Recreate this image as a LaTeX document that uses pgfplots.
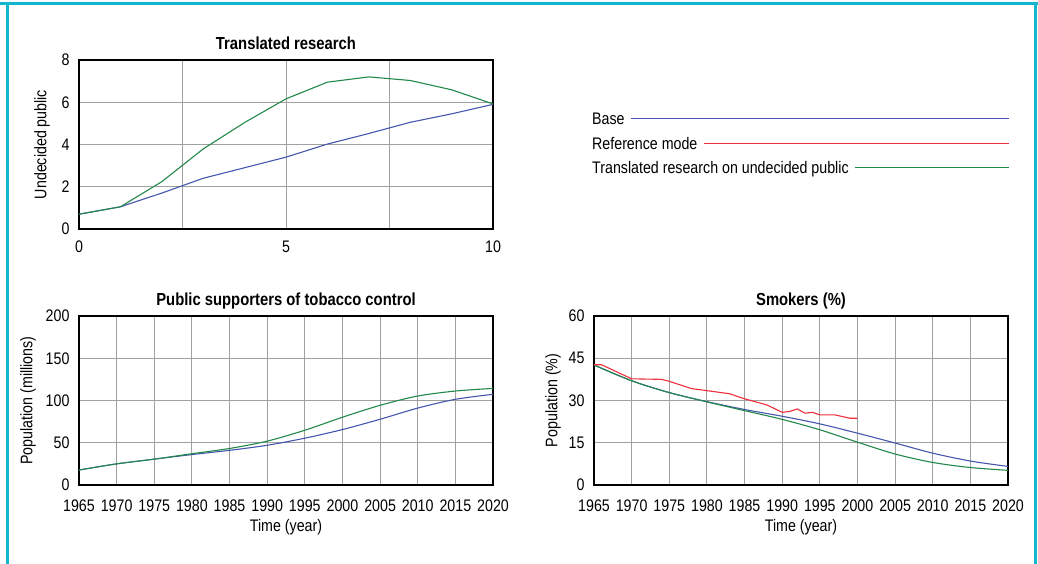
\documentclass[border=0pt]{standalone}
\usepackage{fontspec}
\setmainfont{Liberation Sans}[FakeStretch=0.85]
\usepackage{pgfplots}
\pgfplotsset{compat=1.18}
\definecolor{cblue}{HTML}{4656AC}
\definecolor{cred}{HTML}{EE2E3A}
\definecolor{cgreen}{HTML}{22884A}
\definecolor{cgrid}{HTML}{A0A0A0}
\definecolor{cframe}{HTML}{12B6CE}
\pgfplotsset{
  every axis/.append style={
    scale only axis, width=414bp, height=169bp,
    axis line style={black, line width=1.6bp},
    grid=both,
    major grid style={cgrid, line width=0.9bp},
    minor grid style={cgrid, line width=0.9bp},
    major tick length=0pt, minor tick length=0pt,
    tick align=outside,
    font=\fontsize{16.8}{19}\selectfont,
    /pgf/number format/assume math mode=true,
    /pgf/number format/.cd, 1000 sep={}, /pgfplots/.cd,
    yticklabel style={xshift=-6bp},
    xticklabel style={yshift=-11bp},
    title style={font=\fontsize{17.5}{20}\selectfont\bfseries, at={(axis description cs:0.5,1.028)}, anchor=base, inner sep=0pt, yshift=0pt},
    xlabel style={at={(axis description cs:0.5,-0.249)}, anchor=center},
  },
}
\begin{document}
\begin{tikzpicture}[x=1bp,y=1bp]
\useasboundingbox (0,0) rectangle (1038,564);
\draw[draw=cframe, line width=3bp] (0,560) -- (1038,560);
\draw[draw=cframe, line width=3bp] (7,0) -- (7,560);
\draw[draw=cframe, line width=3bp] (1035.5,0) -- (1035.5,560);

% Top chart
\begin{axis}[at={(79bp,335bp)}, anchor=south west,
  xmin=0, xmax=10, ymin=0, ymax=8,
  xtick={0,5,10}, minor xtick={2.5,7.5}, ytick={0,2,4,6,8},
  xticklabel style={yshift=2.5bp},
  title={Translated research},
  ylabel={Undecided public},
  ylabel style={at={(axis description cs:-0.089,0.5)}, anchor=center},
]
\addplot[cblue, line width=1.1bp] coordinates {
(0,0.70) (1,1.05) (2,1.70) (3,2.40) (4,2.90) (5,3.40) (6,4.02) (7,4.52) (8,5.05) (9,5.45) (10,5.90)};
\addplot[cgreen, line width=1.1bp] coordinates {
(0,0.70) (1,1.05) (2,2.24) (3,3.79) (4,5.04) (5,6.16) (6,6.95) (7,7.20) (8,7.03) (9,6.59) (10,5.92)};
\end{axis}

% Legend
\begin{scope}[font=\fontsize{16.8}{19}\selectfont]
\node[anchor=west, inner sep=0, text height=12bp, text depth=0bp] (lgA) at (592,445.5) {Base};
\node[anchor=west, inner sep=0, text height=12bp, text depth=0bp] (lgB) at (592,420.5) {Reference mode};
\node[anchor=west, inner sep=0, text height=12bp, text depth=0bp] (lgC) at (592,396.5) {Translated research on undecided public};
\draw[draw=cblue, line width=1.2bp] ([xshift=6bp]lgA.east) -- (1009,445.5);
\draw[draw=cred, line width=1.2bp] ([xshift=6bp]lgB.east) -- (1009,420.5);
\draw[draw=cgreen, line width=1.2bp] ([xshift=6bp]lgC.east) -- (1009,396.5);
\end{scope}

% Bottom left
\begin{axis}[at={(79bp,79bp)}, anchor=south west,
  xmin=1965, xmax=2020, ymin=0, ymax=200,
  xtick={1965,1970,...,2020}, ytick={0,50,...,200},
  title={Public supporters of tobacco control},
  xlabel={Time (year)},
  ylabel={Population (millions)},
  ylabel style={at={(axis description cs:-0.123,0.5)}, anchor=center},
]
\addplot[cblue, line width=1.1bp, smooth] coordinates {
(1965,17.7) (1970,25.0) (1975,30.6) (1980,36.0) (1985,41.0) (1990,47.0) (1995,55.4) (2000,65.6) (2005,77.8) (2010,91.0) (2015,101.4) (2020,107.3)};
\addplot[cgreen, line width=1.1bp, smooth] coordinates {
(1965,17.7) (1970,25.0) (1975,30.6) (1980,37.0) (1985,43.2) (1990,51.9) (1995,64.8) (2000,80.2) (2005,94.3) (2010,105.3) (2015,111.2) (2020,114.3)};
\end{axis}

% Bottom right
\begin{axis}[at={(594bp,79bp)}, anchor=south west,
  xmin=1965, xmax=2020, ymin=0, ymax=60,
  xtick={1965,1970,...,2020}, ytick={0,15,...,60},
  title={Smokers (\%)},
  xlabel={Time (year)},
  ylabel={Population (\%)},
  ylabel style={at={(axis description cs:-0.099,0.5)}, anchor=center},
]
\addplot[cblue, line width=1.1bp, smooth] coordinates {
(1965,42.6) (1970,37.0) (1975,32.8) (1980,29.6) (1985,26.8) (1990,24.4) (1995,21.7) (2000,18.4) (2005,14.9) (2010,11.3) (2015,8.5) (2020,6.6)};
\addplot[cgreen, line width=1.1bp, smooth] coordinates {
(1965,42.6) (1970,37.0) (1975,32.8) (1980,29.5) (1985,26.4) (1990,23.3) (1995,19.6) (2000,15.2) (2005,11.0) (2010,8.0) (2015,6.2) (2020,5.2)};
\addplot[cred, line width=1.1bp] coordinates {
(1965,42.7) (1966,42.7) (1970,37.7) (1974,37.5) (1975,36.8) (1978,34.2) (1980,33.5) (1983,32.4) (1985,30.6) (1988,28.4) (1990,25.8) (1991,26.1) (1992,27.0) (1993,25.5) (1994,25.8) (1995,24.9) (1997,24.9) (1999,23.7) (2000,23.7)};
\end{axis}
\end{tikzpicture}
\end{document}
